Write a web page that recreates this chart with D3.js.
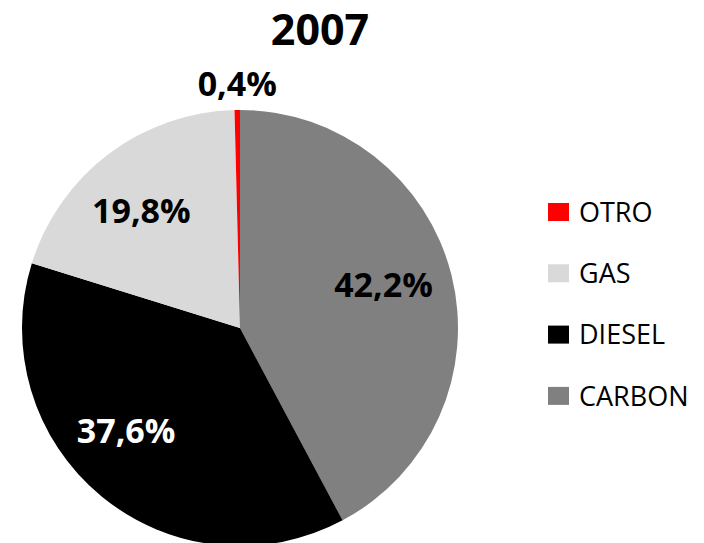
<!DOCTYPE html>
<html>
<head>
<meta charset="utf-8">
<script src="https://cdn.jsdelivr.net/npm/d3@7"></script>
<style>
  body { margin: 0; background: #fff; }
  text { font-family: "Open Sans", sans-serif; }
</style>
</head>
<body>
<div id="chart"></div>
<script>
const title = "2007";
const categories = ["CARBON", "DIESEL", "GAS", "OTRO"];
const values = [42.2, 37.6, 19.8, 0.4];
const colors = ["#808080", "#000000", "#d9d9d9", "#ff0000"];
const labelColors = ["#000", "#fff", "#000", "#000"];
// nudges so the labels sit where excel put them
const labelNudge = [[-4, -6], [-17, -14], [-7, 4], [0, 0]];

const width = 704, height = 543;
const radius = 218;

const svg = d3.select("#chart")
    .append("svg")
    .attr("width", width)
    .attr("height", height);

svg.append("text")
    .attr("x", 320)
    .attr("y", 45)
    .attr("text-anchor", "middle")
    .attr("font-size", "43px")
    .attr("font-weight", "bold")
    .text(title);

const pieG = svg.append("g")
    .attr("transform", `translate(240,328)`);

const pie = d3.pie().sort(null).value(d => d[1]);
const pieData = pie(categories.map((c, i) => [c, values[i]]));

const arcGenerator = d3.arc().innerRadius(0).outerRadius(radius);
const labelArc = d3.arc().innerRadius(152).outerRadius(152);

pieG.selectAll("path")
    .data(pieData)
    .join("path")
    .attr("d", arcGenerator)
    .attr("fill", (d, i) => colors[i]);

const fmt = v => v.toFixed(1).replace(".", ",") + "%";

pieG.selectAll("text.lbl")
    .data(pieData)
    .join("text")
    .attr("class", "lbl")
    .attr("transform", (d, i) => {
        const n = labelNudge[i];
        // tiny slices get their label outside the pie
        if (d.data[1] < 2) {
            const a = (d.startAngle + d.endAngle) / 2;
            return `translate(${Math.sin(a) * radius + n[0]},${-radius - 14 + n[1]})`;
        }
        const c = labelArc.centroid(d);
        return `translate(${c[0] + n[0]},${c[1] + n[1]})`;
    })
    .attr("dy", d => d.data[1] < 2 ? "0" : "0.36em")
    .attr("text-anchor", "middle")
    .attr("font-size", "34px")
    .attr("font-weight", "bold")
    .attr("fill", (d, i) => labelColors[i])
    .text(d => fmt(d.data[1]));

// legend, listed in reverse order like the original
const legend = svg.append("g")
    .attr("transform", `translate(548, 212)`);

const legendItems = categories.map((c, i) => [c, colors[i]]).reverse();

legendItems.forEach((d, i) => {
    const item = legend.append("g")
        .attr("transform", `translate(0, ${i * 61.3})`);

    item.append("rect")
        .attr("x", 0)
        .attr("y", -9)
        .attr("width", 21)
        .attr("height", 18)
        .attr("fill", d[1]);

    item.append("text")
        .attr("x", 31)
        .attr("y", 0)
        .attr("dy", "0.36em")
        .attr("font-size", "27px")
        .text(d[0]);
});
</script>
</body>
</html>
